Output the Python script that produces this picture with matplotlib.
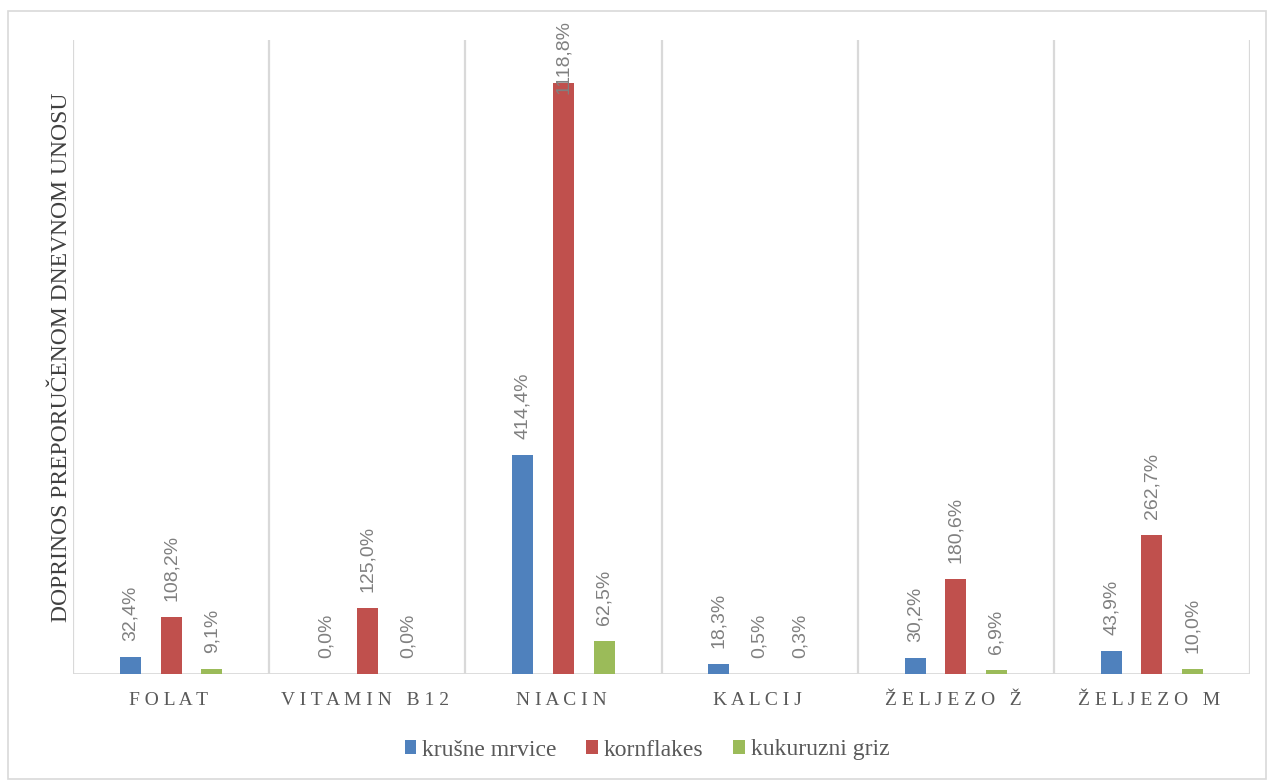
import matplotlib
matplotlib.use("Agg")
import matplotlib.pyplot as plt
import numpy as np
from matplotlib.patches import Patch, Rectangle

categories = ["FOLAT", "VITAMIN B12", "NIACIN", "KALCIJ", "ŽELJEZO Ž", "ŽELJEZO M"]
series_names = ["krušne mrvice", "kornflakes", "kukuruzni griz"]
krusne = [32.4, 0.0, 414.4, 18.3, 30.2, 43.9]
kornflakes = [108.2, 125.0, 1118.8, 0.5, 180.6, 262.7]
kukuruzni = [9.1, 0.0, 62.5, 0.3, 6.9, 10.0]
series = [krusne, kornflakes, kukuruzni]
colors = ["#4F81BD", "#C0504D", "#9BBB59"]

W, H, DPI = 1268, 780, 100
fig = plt.figure(figsize=(W / DPI, H / DPI), dpi=DPI)
ax = fig.add_axes([73 / W, (H - 674) / H, (1250 - 73) / W, (674 - 40) / H])

x = np.arange(len(categories))
bw = 0.107
off = 0.207
OFFSET_PT = 11.5
texts = []
for i, (vals, c) in enumerate(zip(series, colors)):
    pos = x + (i - 1) * off
    ax.bar(pos, vals, width=bw, color=c, zorder=3)
    for px, v in zip(pos, vals):
        t = ax.annotate(f"{v:.1f}%".replace(".", ","), (px, v), xytext=(0, OFFSET_PT),
                        textcoords="offset points", rotation=90, ha="center", va="bottom",
                        fontsize=14, color="#808080", family="Liberation Sans",
                        annotation_clip=False, zorder=4)
        texts.append(t)

ax.set_xlim(-0.5, len(categories) - 0.5)
ax.set_ylim(0, 1200)
for b in np.arange(-0.5, len(categories), 1.0):
    ax.axvline(b, color="#D9D9D9", lw=1.6, zorder=1)
ax.axhline(0, color="#D9D9D9", lw=2, zorder=2)
for s in ax.spines.values():
    s.set_visible(False)
ax.set_yticks([])


def spaced(s):
    return " ".join(list(s)) + " "


ax.set_xticks(x)
ax.set_xticklabels([spaced(c) for c in categories], family="Liberation Serif",
                   fontsize=14, color="#595959")
ax.tick_params(axis="x", length=0, pad=13)

ax.set_ylabel("DOPRINOS PREPORUČENOM DNEVNOM UNOSU", family="Liberation Serif",
              fontsize=17, color="#404040", labelpad=1)

handles = [Patch(facecolor=c, edgecolor="none") for c in colors]
fig.legend(handles, series_names, loc="center", bbox_to_anchor=(647 / W, 1 - 750 / H),
           ncol=3, frameon=False, prop={"family": "Liberation Serif", "size": 17},
           handlelength=0.5, handleheight=0.5, handletextpad=0.25, columnspacing=1.25,
           labelcolor="#595959")

fig.patches.append(Rectangle((8 / W, 1 / H), (W - 10) / W, (H - 12) / H,
                             transform=fig.transFigure, fill=False,
                             edgecolor="#D9D9D9", lw=1.2))

fig.canvas.draw()
r = fig.canvas.get_renderer()
for t in texts:
    bb = t.get_window_extent(r)
    limit = H - 20
    if bb.y1 > limit:
        shift = (bb.y1 - limit) * 72 / DPI
        t.xyann = (0, OFFSET_PT - shift)

fig.savefig("out.png", dpi=DPI)
